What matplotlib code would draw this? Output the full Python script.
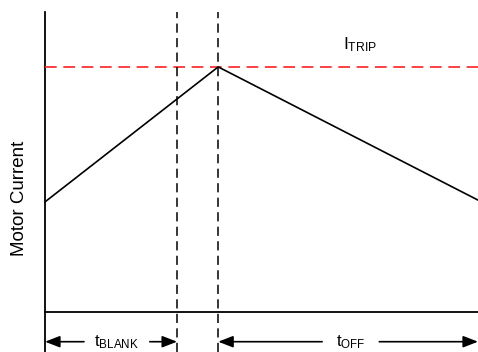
import matplotlib
matplotlib.use("Agg")
import matplotlib.pyplot as plt

plt.rcParams['font.family'] = ['Liberation Sans', 'DejaVu Sans']
plt.rcParams['mathtext.fontset'] = 'custom'
plt.rcParams['mathtext.rm'] = 'Liberation Sans'
plt.rcParams['mathtext.it'] = 'Liberation Sans'

# schematic data (arbitrary units)
time = [0.0, 4.0, 10.0]
current = [0.367, 0.817, 0.373]
i_trip = 0.817
t_blank_end = 3.05
t_peak = 4.0
t_end = 10.0
y_label = "Motor Current"
trip_label = r"$\mathregular{I_{TRIP}}$"
blank_label = r"$\mathregular{t_{BLANK}}$"
off_label = r"$\mathregular{t_{OFF}}$"

W, H = 478, 352
fig = plt.figure(figsize=(W / 100, H / 100), dpi=100)
ax = fig.add_axes([45 / W, 40 / H, 433 / W, 300 / H])
ax.set_xlim(0, t_end)
ax.set_ylim(0, 1)
for s in ax.spines.values():
    s.set_visible(False)
ax.set_xticks([])
ax.set_yticks([])

y_bottom = -0.133
y_arrow = -0.099

# axes lines
ax.plot([0, 0], [y_bottom, 1], color='black', lw=1.3, clip_on=False)
ax.plot([0, t_end], [0, 0], color='black', lw=1.3, clip_on=False)

# trip level
ax.plot([0, t_end], [i_trip, i_trip], color='#ff2020', lw=1.2,
        dashes=(7, 4), clip_on=False)

# current waveform
ax.plot(time, current, color='black', lw=1.2, clip_on=False)

# dashed verticals
for xv in (t_blank_end, t_peak):
    ax.plot([xv, xv], [y_bottom, 1], color='black', lw=1.1,
            dashes=(6, 3.5), clip_on=False)

# labels
ax.text(-0.60, 0.38, y_label, rotation=90, ha='center', va='center',
        fontsize=13.5)
ax.text(7.28, 0.89, trip_label, ha='center', va='center', fontsize=12.5)

arrow_kw = dict(arrowstyle='-|>,head_length=0.9,head_width=0.35',
                color='black', lw=1.2, shrinkA=0, shrinkB=0)


def span(x0, x1, label, xl0, xl1):
    xm = (xl0 + xl1) / 2
    ax.annotate('', xy=(x0, y_arrow), xytext=(xl0, y_arrow),
                arrowprops=arrow_kw, annotation_clip=False)
    ax.annotate('', xy=(x1, y_arrow), xytext=(xl1, y_arrow),
                arrowprops=arrow_kw, annotation_clip=False)
    ax.text(xm, y_arrow, label, ha='center', va='center', fontsize=12,
            clip_on=False)


span(0, t_blank_end, blank_label, 0.90, 2.42)
span(t_peak, t_end, off_label, 6.40, 7.72)

fig.savefig("out.png", dpi=100)
